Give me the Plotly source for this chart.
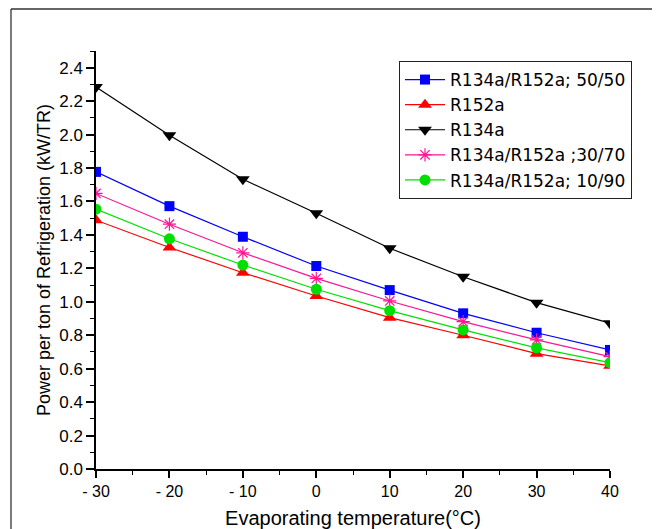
import plotly.graph_objects as go

temps = [-30, -20, -10, 0, 10, 20, 30, 40]
x_tick_vals = [-30, -20, -10, 0, 10, 20, 30, 40]
x_tick_text = ["- 30", "- 20", "- 10", "0", "10", "20", "30", "40"]
y_tick_vals = [0.0, 0.2, 0.4, 0.6, 0.8, 1.0, 1.2, 1.4, 1.6, 1.8, 2.0, 2.2, 2.4]

mix_50_50 = [1.777, 1.572, 1.389, 1.214, 1.07, 0.931, 0.815, 0.712]
r152a = [1.488, 1.325, 1.174, 1.035, 0.905, 0.80, 0.69, 0.617]
r134a = [2.284, 1.996, 1.733, 1.53, 1.32, 1.15, 0.995, 0.872]
mix_30_70 = [1.648, 1.464, 1.293, 1.14, 1.005, 0.881, 0.772, 0.672]
mix_10_90 = [1.554, 1.377, 1.22, 1.075, 0.947, 0.832, 0.724, 0.636]

names = ["R134a/R152a; 50/50", "R152a", "R134a", "R134a/R152a ;30/70", "R134a/R152a; 10/90"]
series = [mix_50_50, r152a, r134a, mix_30_70, mix_10_90]
colors = ["#0000FF", "#FF0000", "#000000", "#FF1493", "#00E000"]
symbols = ["square", "triangle-up", "triangle-down", "asterisk-open", "circle"]
sizes = [10, 12, 12, 11, 11]

FONT = "Liberation Sans, Arial, sans-serif"
LEG_FONT = "DejaVu Sans, Liberation Sans, sans-serif"

fig = go.Figure()
for name, vals, c, s, sz in zip(names, series, colors, symbols, sizes):
    marker = dict(symbol=s, size=sz, color=c)
    if s == "asterisk-open":
        marker["line"] = dict(color=c, width=1.2)
    else:
        marker["line"] = dict(width=0)
    fig.add_trace(go.Scatter(
        x=temps, y=vals, name=name, mode="lines+markers",
        line=dict(color=c, width=1.2), marker=marker, cliponaxis=True,
    ))

# page body has an 8px margin, so the figure is drawn 8px smaller and offset
OFF = 8
W, H = 660 - OFF, 529 - OFF
L, R, T, B = 96 - OFF, 50, 51 - OFF, 60
pw, ph = W - L - R, H - T - B
fx0 = (11 - OFF - L) / pw
fy_top = (H - B - (9 - OFF)) / ph
fy_bot = (H - B - H) / ph
fx1 = (W - L) / pw

fig.add_shape(type="line", xref="paper", yref="paper", x0=fx0, x1=fx0, y0=fy_bot, y1=fy_top,
              line=dict(color="#333333", width=1.3))
fig.add_shape(type="line", xref="paper", yref="paper", x0=fx0, x1=fx1, y0=fy_top, y1=fy_top,
              line=dict(color="#333333", width=1.3))

fig.update_layout(
    width=W, height=H,
    margin=dict(l=L, r=R, t=T, b=B, autoexpand=False),
    paper_bgcolor="white", plot_bgcolor="white",
    font=dict(family=FONT, color="black", size=16),
    showlegend=True,
    legend=dict(
        x=(399 - OFF - L) / pw, y=(H - B - (61 - OFF)) / ph, xanchor="left", yanchor="top",
        bordercolor="#222222", borderwidth=1, bgcolor="white",
        font=dict(family=LEG_FONT, size=17, color="black"),
        tracegroupgap=0, itemwidth=40,
    ),
)

fig.update_xaxes(
    range=[-30, 40], tickvals=x_tick_vals, ticktext=x_tick_text, automargin=False,
    showgrid=False, zeroline=False, showline=True, linecolor="black", linewidth=1.5,
    ticks="outside", ticklen=7, tickwidth=1.5, tickcolor="black",
    tickfont=dict(size=16),
    minor=dict(ticks="outside", dtick=5, ticklen=4, tickwidth=1.2, tickcolor="black"),
    title=dict(text="Evaporating temperature(°C)", font=dict(size=20), standoff=14),
)
fig.update_yaxes(
    range=[0, 2.5], tickvals=y_tick_vals, tickformat=".1f", automargin=False,
    showgrid=False, zeroline=False, showline=True, linecolor="black", linewidth=1.5,
    ticks="outside", ticklen=8, tickwidth=1.5, tickcolor="black",
    tickfont=dict(size=17),
    minor=dict(ticks="outside", dtick=0.1, ticklen=4, tickwidth=1.2, tickcolor="black"),
    title=dict(text="Power per ton of Refrigeration (kW/TR)", font=dict(size=18), standoff=4),
)

fig.write_html("out.html")
